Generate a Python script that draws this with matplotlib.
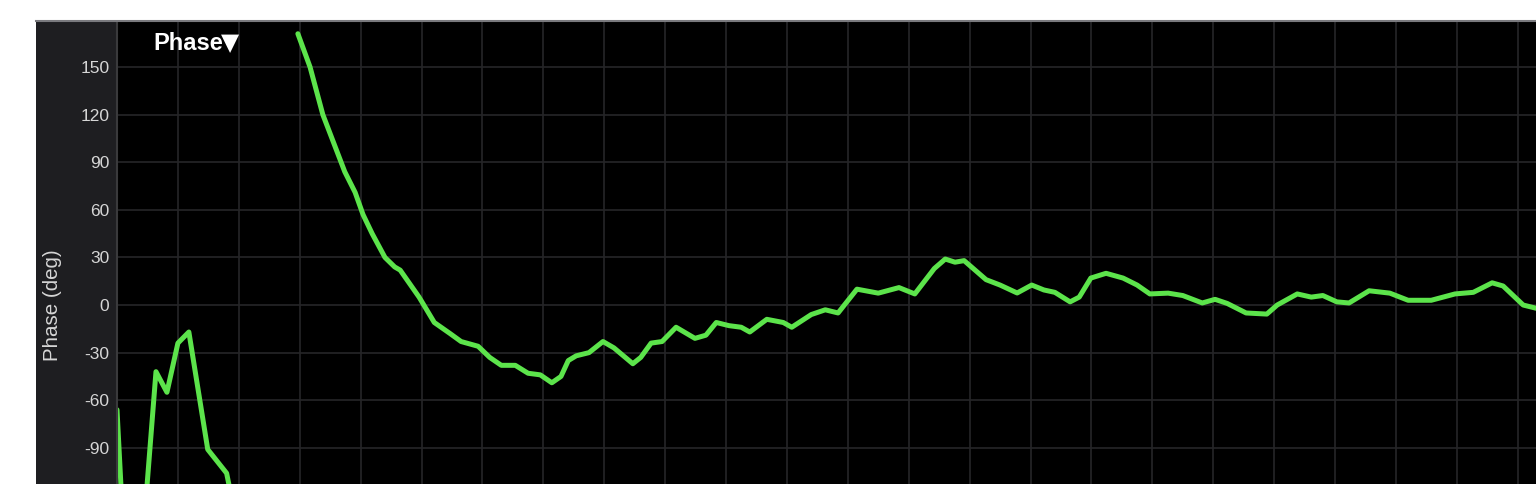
import matplotlib.pyplot as plt
import numpy as np
from matplotlib.patches import Rectangle
from matplotlib.lines import Line2D

plt.rcParams["axes.unicode_minus"] = False

# x is in grid divisions (one vertical grid line per unit), y is phase in degrees
low_x = [0.00, 0.08]
low_phase = [-66, -125]

bump_x = [0.47, 0.64, 0.82, 1.00, 1.18, 1.36, 1.49, 1.80, 1.90]
bump_phase = [-125, -42, -55, -24, -17, -60, -91, -106, -125]

main_x = [
    2.97, 3.17, 3.38, 3.60, 3.74, 3.91, 4.04, 4.19, 4.40, 4.56, 4.65, 4.96,
    5.21, 5.47, 5.65, 5.93, 6.12, 6.31, 6.54, 6.75, 6.95, 7.14, 7.29, 7.41,
    7.54, 7.75, 7.98, 8.16, 8.47, 8.60, 8.77, 8.95, 9.18, 9.49, 9.67, 9.84,
    10.05, 10.25, 10.39, 10.67, 10.94, 11.08, 11.40, 11.63, 11.84, 12.15,
    12.50, 12.84, 13.10, 13.42, 13.60, 13.76, 13.91, 14.27, 14.50, 14.78,
    15.02, 15.22, 15.40, 15.65, 15.80, 15.99, 16.24, 16.52, 16.75, 16.96,
    17.26, 17.50, 17.82, 18.03, 18.23, 18.54, 18.88, 19.05, 19.38, 19.61,
    19.80, 20.03, 20.23, 20.56, 20.90, 21.20, 21.58, 21.97, 22.27, 22.58,
    22.76, 23.09, 23.30, 23.50,
]
main_phase = [
    171, 150, 120, 98, 84, 71, 57, 45, 30, 24, 22, 5,
    -11, -18, -23, -26, -33, -38, -38, -43, -44, -49, -45, -35,
    -32, -30, -23, -27, -37, -33, -24, -23, -14, -21, -19, -11,
    -13, -14, -17, -9, -11, -14, -6, -3, -5, 10,
    7.5, 11, 7, 23, 29, 27, 28, 16, 12.6, 7.6,
    12.6, 9.5, 8, 2, 5, 17, 20, 17, 12.6, 7,
    7.5, 6, 1.3, 3.6, 1, -5, -5.7, 0, 7, 5,
    6, 2, 1.3, 9, 7.5, 3, 3, 7, 8, 14,
    12, 0, -2, -2,
]

y_ticks = [-90, -60, -30, 0, 30, 60, 90, 120, 150]

W, H = 1536, 484
fig = plt.figure(figsize=(W / 100, H / 100), dpi=100)
fig.patch.set_facecolor("white")

# dark side panel behind the tick labels (below the axes)
fig.patches.append(Rectangle((36 / W, 0), (117 - 36) / W, (H - 21) / H,
                             transform=fig.transFigure, facecolor="#1e1e21",
                             edgecolor="none", zorder=-5))

ax = fig.add_axes([117 / W, 0, 1 - 117 / W, (H - 22) / H])
ax.set_facecolor("black")

green = "#5ce44b"
kw = dict(color=green, linewidth=3.6, solid_capstyle="round", solid_joinstyle="round")
ax.plot(low_x, low_phase, **kw)
ax.plot(bump_x, bump_phase, **kw)
ax.plot(main_x, main_phase, **kw)

ax.set_xlim(0, 23.3)
ax.set_ylim(-112.8, 178.4)
ax.set_xticks(np.arange(0, 24))
ax.set_yticks(y_ticks)
ax.set_xticklabels([])
ax.grid(True, color="#262628", linewidth=1.2)
ax.set_axisbelow(True)
ax.tick_params(axis="x", length=0)
ax.tick_params(axis="y", length=0, pad=5.5, labelsize=12.5, labelcolor="#d6d6d6")
for lbl in ax.get_yticklabels():
    lbl.set_fontfamily("Liberation Sans")
for side in ["top", "right", "bottom"]:
    ax.spines[side].set_visible(False)
ax.spines["left"].set_color("#3a3a3c")
ax.spines["left"].set_linewidth(1.5)

ax.set_ylabel("Phase (deg)", fontsize=14.8, color="#d6d6d6",
              family="Liberation Sans", va="center")
ax.yaxis.set_label_coords((52 - 117) / (W - 117), (H - 305) / (H - 22))

# top border line
fig.lines.append(Line2D([36 / W, 1], [(H - 21) / H, (H - 21) / H],
                        transform=fig.transFigure, color="#7a7a7e", linewidth=1.5))

fig.text(153 / W, (H - 50) / H, "Phase", fontsize=17, fontweight="bold",
         color="white", family="Liberation Sans", va="baseline")
fig.text(221 / W, (H - 50) / H, "▼", fontsize=17, color="white",
         family="DejaVu Sans", va="baseline")

fig.savefig("out.png", dpi=100, facecolor=fig.get_facecolor())
